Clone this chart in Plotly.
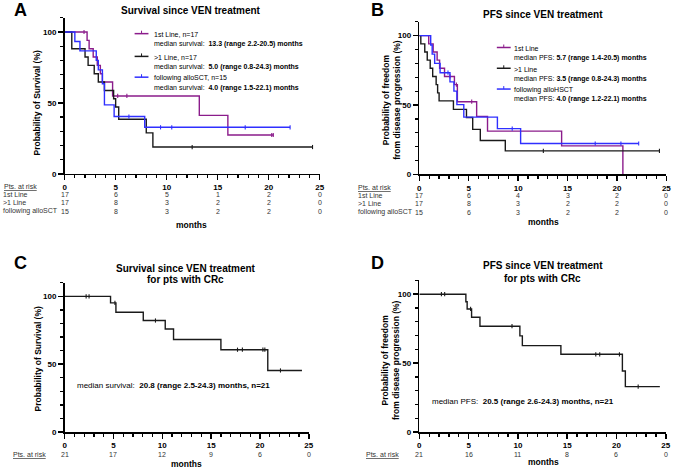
import numpy as np
import plotly.graph_objects as go

W, H = 677, 473
FONT = "Liberation Sans, Arial, sans-serif"

PURPLE = "#8B1C8B"
BLACK = "#1a1a1a"
BLUE = "#2F2FFF"

# ---------------- data ----------------
month_ticks = [0, 5, 10, 15, 20, 25]

# Panel A: survival since VEN treatment
a_first_t = [2.2, 2.4, 2.8, 3.2, 3.5, 3.7, 4.7, 13.2, 16.0]
a_first_s = [94.1, 88.2, 82.4, 76.5, 70.6, 64.7, 54.9, 41.2, 27.4]
a_first_end = 20.5
a_first_cens = [1.9, 5.2, 6.1, 20.3, 20.45]

a_more_t = [0.7, 2.0, 2.3, 2.9, 3.3, 3.9, 4.8, 5.0, 5.3, 8.0, 8.65]
a_more_s = [88.2, 82.4, 76.5, 70.6, 64.7, 58.8, 52.9, 47.1, 38.5, 28.9, 18.9]
a_more_end = 24.3
a_more_cens = [12.5, 24.3]

a_allo_t = [1.0, 1.5, 3.1, 3.3, 3.7, 3.9, 4.85, 7.85]
a_allo_s = [93.3, 86.7, 80.0, 73.3, 63.5, 48.6, 40.4, 32.8]
a_allo_end = 22.1
a_allo_cens = [6.3, 9.4, 10.5, 17.7, 22.1]

# Panel B: PFS since VEN treatment
b_first_t = [0.95, 1.4, 1.8, 2.05, 2.55, 3.55, 3.85, 5.8, 6.9, 14.4, 20.6]
b_first_s = [94.1, 88.2, 82.4, 76.5, 70.6, 64.7, 52.4, 41.8, 31.2, 20.6, 0.0]
b_first_end = 20.6
b_first_cens = [3.1, 3.75, 5.3]

b_more_t = [0.15, 0.55, 0.8, 1.1, 1.35, 1.7, 1.85, 2.0, 3.45, 4.77, 5.4, 6.17, 8.7]
b_more_s = [94.1, 88.2, 82.4, 76.5, 70.6, 64.7, 58.8, 53.0, 46.9, 41.0, 32.5, 24.5, 17.0]
b_more_end = 24.3
b_more_cens = [12.55, 24.3]

b_allo_t = [1.15, 1.3, 1.55, 2.1, 3.1, 3.5, 3.8, 4.5, 7.9, 10.25]
b_allo_s = [93.3, 86.7, 80.0, 73.3, 66.7, 60.0, 50.3, 41.3, 33.0, 22.3]
b_allo_end = 22.2
b_allo_cens = [2.9, 9.4, 17.8, 20.4, 22.2]

# Panel C: survival, pts with CRc
c_t = [4.7, 5.25, 8.05, 10.3, 11.15, 16.0, 20.8]
c_s = [95.2, 88.3, 82.2, 75.9, 68.2, 60.7, 45.4]
c_end = 24.3
c_cens = [2.2, 2.5, 5.15, 9.3, 17.7, 18.2, 20.3, 20.5, 22.1]

# Panel D: PFS, pts with CRc
d_t = [4.72, 4.85, 5.3, 6.15, 10.2, 10.45, 14.36, 20.6, 20.9]
d_s = [94.5, 89.3, 83.3, 76.8, 69.8, 62.7, 56.4, 44.3, 33.0]
d_end = 24.4
d_cens = [2.24, 2.57, 5.2, 9.4, 17.9, 18.3, 20.3, 22.2]

# numbers at risk
a_rows = ["1st Line", "&gt;1 Line", "following alloSCT"]
b_rows = ["1st Line", "&gt;1 Line", "following alloSCT"]
a_risk = [[17, 6, 5, 1, 2, 0], [17, 8, 3, 2, 2, 0], [15, 8, 3, 2, 2, 0]]
b_risk = [[17, 6, 4, 3, 2, 0], [17, 8, 3, 2, 2, 0], [15, 6, 3, 2, 2, 0]]
c_risk = [21, 17, 12, 9, 6, 0]
d_risk = [21, 16, 11, 8, 6, 0]

# ---------------- helpers ----------------
def px(x):
    return x / W


def py(y):
    return 1 - y / H


def steps(t, s, end):
    x = [0.0] + list(t) + [end]
    y = [100.0] + list(s) + [s[-1]]
    return x, y


def surv_at(t, s, tc):
    idx = np.searchsorted(np.asarray(t), np.asarray(tc), side="right")
    vals = np.concatenate([[100.0], np.asarray(s)])
    return vals[idx]


fig = go.Figure()


def add_curve(t, s, end, cens, color, ax):
    x, y = steps(t, s, end)
    fig.add_trace(go.Scatter(x=x, y=y, mode="lines",
                             line=dict(shape="hv", width=1.4, color=color),
                             xaxis="x" + ax, yaxis="y" + ax, showlegend=False,
                             hoverinfo="skip"))
    fig.add_trace(go.Scatter(x=cens, y=surv_at(t, s, cens), mode="markers",
                             marker=dict(symbol="line-ns", size=3,
                                         line=dict(width=1.1, color=color)),
                             xaxis="x" + ax, yaxis="y" + ax, showlegend=False,
                             cliponaxis=False, hoverinfo="skip"))


add_curve(a_first_t, a_first_s, a_first_end, a_first_cens, PURPLE, "")
add_curve(a_more_t, a_more_s, a_more_end, a_more_cens, BLACK, "")
add_curve(a_allo_t, a_allo_s, a_allo_end, a_allo_cens, BLUE, "")

add_curve(b_first_t, b_first_s, b_first_end, b_first_cens, PURPLE, "2")
add_curve(b_more_t, b_more_s, b_more_end, b_more_cens, BLACK, "2")
add_curve(b_allo_t, b_allo_s, b_allo_end, b_allo_cens, BLUE, "2")

add_curve(c_t, c_s, c_end, c_cens, BLACK, "3")
add_curve(d_t, d_s, d_end, d_cens, BLACK, "4")

# panel geometry in pixels: x of month 0, x of month 25, y of 0 %, y of 110 %
panels = [
    ("", 63.3, 321.0, 175.7, 18.0),
    ("2", 421.7, 671.3, 176.3, 22.0),
    ("3", 63.3, 310.0, 436.7, 285.8),
    ("4", 421.7, 670.7, 436.7, 283.4),
]

layout_axes = {}
for ax, x0, x1, y0, y1 in panels:
    layout_axes["xaxis" + ax] = dict(
        domain=[px(x0), px(x1)], range=[0, 25], anchor="y" + ax,
        showline=True, linecolor="black", linewidth=1.6,
        ticks="outside", tickvals=month_ticks, ticklen=5, tickwidth=1.5,
        tickcolor="black",
        minor=dict(dtick=1, tick0=0, ticks="outside", ticklen=3,
                   tickwidth=1.2, tickcolor="black", showgrid=False),
        showgrid=False, zeroline=False,
        tickfont=dict(family=FONT, size=8, color="black", weight="bold"),
        fixedrange=True)
    layout_axes["yaxis" + ax] = dict(
        domain=[py(y0), py(y1)], range=[0, 110], anchor="x" + ax,
        showline=True, linecolor="black", linewidth=1.6,
        ticks="outside", tickvals=[0, 50, 100], ticklen=5, tickwidth=1.5,
        tickcolor="black",
        minor=dict(dtick=10, tick0=0, ticks="outside", ticklen=3,
                   tickwidth=1.2, tickcolor="black", showgrid=False),
        showgrid=False, zeroline=False,
        tickfont=dict(family=FONT, size=8, color="black", weight="bold"),
        fixedrange=True)

ann = []


def txt(x, y, text, size=7, bold=False, xanchor="left", color="black",
        angle=0, xref="paper"):
    ann.append(dict(x=px(x) if xref == "paper" else x, y=py(y), xref=xref,
                    yref="paper", text=text, showarrow=False,
                    xanchor=xanchor, yanchor="middle", textangle=angle,
                    borderpad=0,
                    font=dict(family=FONT, size=size, color=color,
                              weight="bold" if bold else "normal")))


# panel letters
for letter, x, y in [("A", 19, 10), ("B", 379, 10), ("C", 19, 266), ("D", 379, 266)]:
    txt(x, y, letter, size=18, bold=True, xanchor="center")

# titles
txt(191, 11, "Survival since VEN treatment", size=10, bold=True, xanchor="center")
txt(546.7, 15, "PFS since VEN treatment", size=10, bold=True, xanchor="center")
txt(185.7, 271, "Survival since VEN treatment", size=10, bold=True, xanchor="center")
txt(185.7, 282.7, "for pts with CRc", size=10, bold=True, xanchor="center")
txt(546.3, 268.7, "PFS since VEN treatment", size=10, bold=True, xanchor="center")
txt(546.3, 281, "for pts with CRc", size=10, bold=True, xanchor="center")

# y-axis titles
txt(35, 104, "Probability of Survival (%)", size=8.5, bold=True, xanchor="center", angle=-90)
txt(394, 101, "Probability of freedom<br>from disease progression (%)", size=8.5,
    bold=True, xanchor="center", angle=-90)
txt(36.7, 363, "Probability of Survival (%)", size=8.5, bold=True, xanchor="center", angle=-90)
txt(392, 364, "Probability of freedom<br>from disease progression (%)", size=8.5,
    bold=True, xanchor="center", angle=-90)

# x-axis titles
txt(191.7, 227.5, "months", size=8.5, bold=True, xanchor="center")
txt(547.3, 224.5, "months", size=8.5, bold=True, xanchor="center")
txt(186, 468.5, "months", size=8.5, bold=True, xanchor="center")
txt(547.3, 466.5, "months", size=8.5, bold=True, xanchor="center")

# legends (A, B)
shapes = []


def legend_item(x0, y, color, line1, line2, tx):
    shapes.append(dict(type="line", xref="paper", yref="paper",
                       x0=px(x0), x1=px(x0 + 14), y0=py(y), y1=py(y),
                       line=dict(color=color, width=1.5)))
    shapes.append(dict(type="line", xref="paper", yref="paper",
                       x0=px(x0 + 7), x1=px(x0 + 7), y0=py(y), y1=py(y - 3),
                       line=dict(color=color, width=1)))
    txt(tx, y + 1, line1, size=7)
    txt(tx, y + 10.5, line2, size=7)


legend_item(134, 34, PURPLE, "1st Line, n=17",
            "median survival:  <b>13.3 (range 2.2-20.5) months</b>", 153)
legend_item(134, 57, BLACK, "&gt;1 Line, n=17",
            "median survival:  <b>5.0 (range 0.8-24.3) months</b>", 153)
legend_item(134, 78, BLUE, "following alloSCT, n=15",
            "median survival:  <b>4.0 (range 1.5-22.1) months</b>", 153)

legend_item(500, 48, PURPLE, "1st Line",
            "median PFS: <b>5.7 (range 1.4-20.5) months</b>", 516)
legend_item(500, 69, BLACK, "&gt;1 Line",
            "median PFS: <b>3.5 (range 0.8-24.3) months</b>", 516)
legend_item(500, 90, BLUE, "following alloHSCT",
            "median PFS: <b>4.0 (range 1.2-22.1) months</b>", 516)

# median texts C, D
txt(75, 389.5, "median survival:  <b>20.8 (range 2.5-24.3) months, n=21</b>", size=8)
txt(433, 406, "median PFS:  <b>20.5 (range 2.6-24.3) months, n=21</b>", size=8)

# numbers at risk tables
RISK_COL = "#333333"
txt(0.7, 188.5, "<u>Pts. at risk</u>", size=7, color=RISK_COL)
for row_name, row_vals, y in zip(a_rows, a_risk, [196.8, 205.1, 213.5]):
    txt(0.5, y, row_name, size=7, color=RISK_COL)
    for m, v in zip(month_ticks, row_vals):
        txt(m, y, str(v), size=7, color=RISK_COL, xanchor="center", xref="x")

txt(358.7, 189.0, "<u>Pts. at risk</u>", size=7, color=RISK_COL)
for row_name, row_vals, y in zip(b_rows, b_risk, [197.8, 206.0, 214.3]):
    txt(358.7, y, row_name, size=7, color=RISK_COL)
    for m, v in zip(month_ticks, row_vals):
        txt(m, y, str(v), size=7, color=RISK_COL, xanchor="center", xref="x2")

txt(10, 459.8, "<u>Pts. at risk</u>", size=7, color=RISK_COL)
for m, v in zip(month_ticks, c_risk):
    txt(m, 459.8, str(v), size=7, color=RISK_COL, xanchor="center", xref="x3")

txt(367, 459.2, "<u>Pts. at risk</u>", size=7, color=RISK_COL)
for m, v in zip(month_ticks, d_risk):
    txt(m, 459.2, str(v), size=7, color=RISK_COL, xanchor="center", xref="x4")

fig.update_layout(
    width=W, height=H, margin=dict(l=0, r=0, t=0, b=0),
    paper_bgcolor="white", plot_bgcolor="white",
    showlegend=False, annotations=ann, shapes=shapes,
    font=dict(family=FONT, color="black"),
    **layout_axes,
)

fig.write_html(
    "out.html",
    config={"displayModeBar": False, "staticPlot": True},
    post_script="document.body.style.margin='0';document.body.style.padding='0';"
                "document.body.style.overflow='hidden';",
)
